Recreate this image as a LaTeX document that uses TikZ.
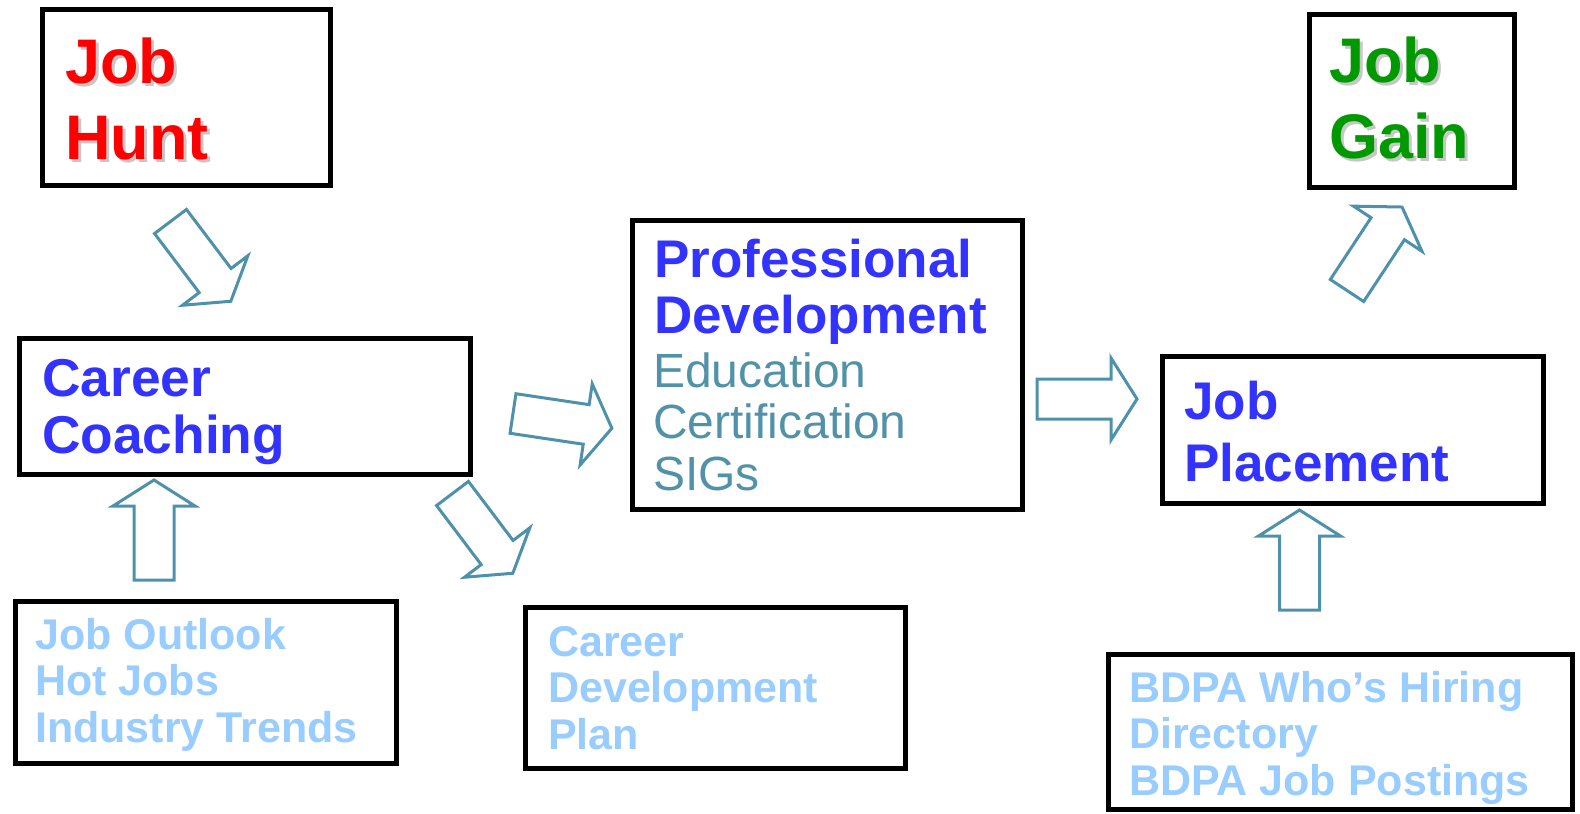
\documentclass[tikz,border=0pt]{standalone}
\usepackage{fontspec}
\setmainfont{Liberation Sans}
\usetikzlibrary{positioning}
\definecolor{huntred}{RGB}{255,0,0}
\definecolor{gaingreen}{RGB}{0,153,0}
\definecolor{stepblue}{RGB}{51,51,255}
\definecolor{itemteal}{RGB}{82,146,168}
\definecolor{notelight}{RGB}{153,204,255}
\definecolor{arrowteal}{RGB}{78,145,170}

\begin{document}
\begin{tikzpicture}[x=1pt, y=-1pt,
  box/.style={draw, line width=5pt, inner sep=0pt},
  txt/.style={anchor=base west, inner sep=0pt, align=left},
  huge/.style={font=\fontsize{63}{76}\selectfont\bfseries},
  head/.style={font=\fontsize{53.3}{57}\selectfont\bfseries, text=stepblue},
  item/.style={font=\fontsize{48}{51.5}\selectfont, text=itemteal},
  note/.style={font=\fontsize{43}{46.5}\selectfont\bfseries, text=notelight},
  drop/.style={text=black!22},
  arrowline/.style={draw=arrowteal, fill=white, line width=3pt, line join=miter},
  blockarrow/.pic={\draw[arrowline] (0,-20) -- (74,-20) -- (74,-41) -- (100,0)
    -- (74,41) -- (74,20) -- (0,20) -- cycle;}]
\useasboundingbox (0,0) rectangle (1580,814);
% Boxes
\node [box, minimum width=288, minimum height=176] (hunt) at (186.5,97.5) {};
\node [box, minimum width=205, minimum height=173] (gain) at (1412,101) {};
\node [box, minimum width=451, minimum height=136] (coach) at (245,406.5) {};
\node [box, minimum width=390, minimum height=289] (prodev) at (827.5,365) {};
\node [box, minimum width=381, minimum height=147] (place) at (1353,430) {};
\node [box, minimum width=381, minimum height=162] (outlook) at (206,682.5) {};
\node [box, minimum width=380, minimum height=161] (plan) at (715.5,688) {};
\node [box, minimum width=464, minimum height=155] (bdpa) at (1340.5,732) {};
% Texts (anchored at the last line)
\node [txt, huge, drop] (huntshadow) at (68,162) {Job\\Hunt};
\node [txt, huge, text=huntred] (hunttext) at (65,159) {Job\\Hunt};
\node [txt, huge, drop] (gainshadow) at (1332,161) {Job\\Gain};
\node [txt, huge, text=gaingreen] (gaintext) at (1329,158) {Job\\Gain};
\node [txt, head] (coachtext) at (42,453) {Career\\Coaching};
\node [txt, head, font=\fontsize{53}{56}\selectfont\bfseries] (prodevtext) at (654,333) {Professional\\Development};
\node [txt, item] (prodevitems) at (653,490) {Education\\Certification\\SIGs};
\node [txt, head, font=\fontsize{53}{62}\selectfont\bfseries] (placetext) at (1184,481) {Job\\Placement};
\node [txt, note] (outlooktext) at (35,742) {Job Outlook\\Hot Jobs\\Industry Trends};
\node [txt, note] (plantext) at (548,749) {Career\\Development\\Plan};
\node [txt, note] (bdpatext) at (1129,795) {BDPA Who’s Hiring\\Directory\\BDPA Job Postings};
% Arrows
\pic [rotate=-52.9] at (170.5,221.5) {blockarrow};
\pic [rotate=-8.5] at (513,413.5) {blockarrow};
\pic [rotate=-52.9] at (452.5,493.5) {blockarrow};
\pic at (1037,399) {blockarrow};
\pic [rotate=56.6] at (1347,290.5) {blockarrow};
\pic [rotate=90] at (1299.5,610) {blockarrow};
\pic [rotate=90] at (154,580) {blockarrow};
\end{tikzpicture}
\end{document}
